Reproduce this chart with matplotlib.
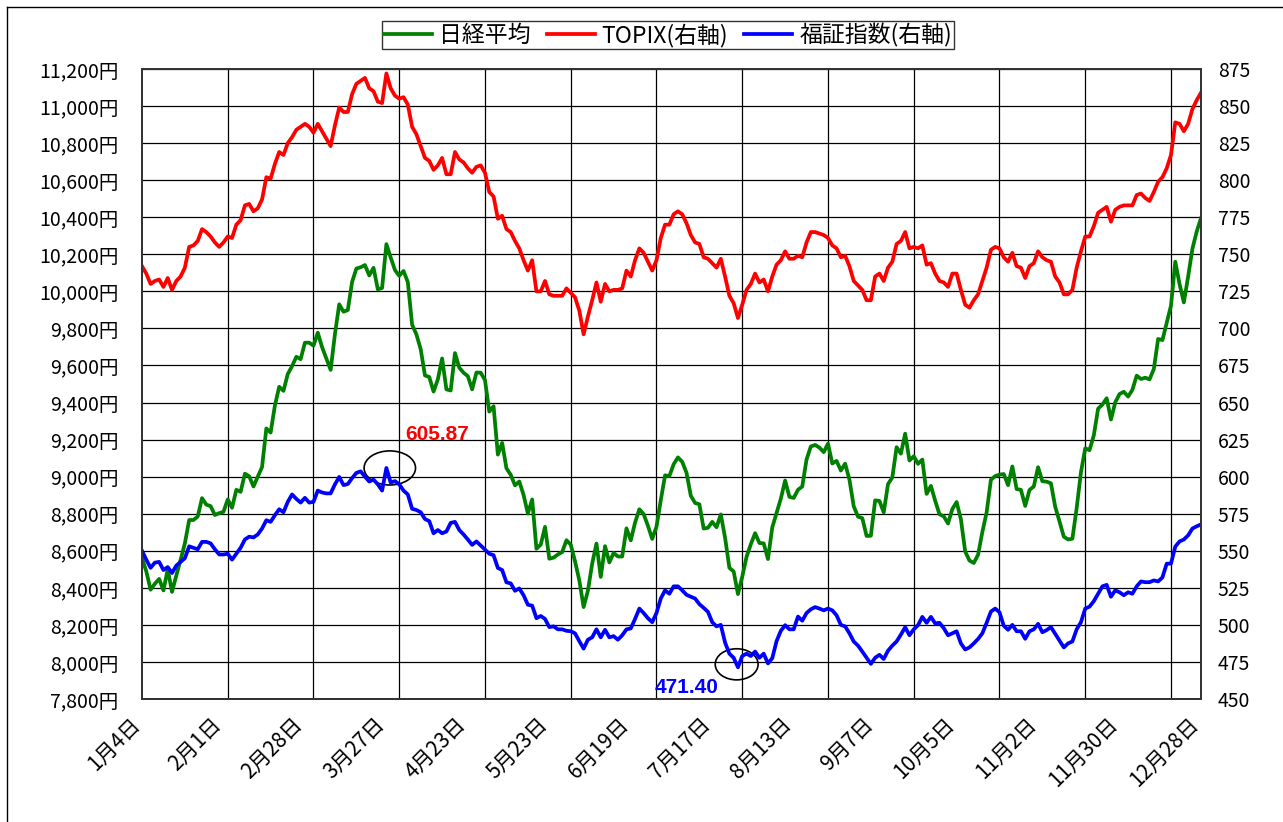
import numpy as np
import matplotlib
matplotlib.use('Agg')
import matplotlib.pyplot as plt
from matplotlib.patches import Ellipse
from matplotlib.lines import Line2D
from matplotlib.ticker import FuncFormatter
import matplotlib.transforms as mtransforms

plt.rcParams['font.family'] = ['Noto Sans CJK JP', 'DejaVu Sans']

# 2012年 営業日ごとの終値
nikkei = [
    # 1月
    8560, 8489, 8390, 8422, 8448, 8386, 8500, 8378, 8466, 8551, 8640, 8766, 8766, 8785, 8884, 8849, 8841, 8793, 8803,
    # 2月
    8810, 8877, 8832, 8929, 8918, 9016, 9002, 8947, 8999, 9052, 9260, 9238, 9384, 9485, 9463, 9554, 9596, 9647, 9634, 9723, 9723,
    # 3月
    9707, 9777, 9699, 9638, 9576, 9769, 9930, 9890, 9899, 10051, 10123, 10130, 10142, 10086, 10127, 10011, 10018, 10255, 10183, 10115, 10084,
    # 4月
    10110, 10050, 9820, 9768, 9688, 9546, 9538, 9459, 9525, 9638, 9471, 9465, 9667, 9588, 9561, 9542, 9471, 9562, 9561, 9521,
    # 5月
    9351, 9380, 9119, 9182, 9045, 9010, 8953, 8974, 8901, 8801, 8877, 8611, 8633, 8729, 8557, 8563, 8580, 8593, 8657, 8633, 8543,
    # 6月
    8440, 8296, 8384, 8531, 8639, 8459, 8625, 8537, 8588, 8569, 8569, 8721, 8656, 8752, 8824, 8798, 8735, 8664, 8730, 8873, 9007,
    # 7月
    9003, 9067, 9104, 9080, 9021, 8897, 8858, 8851, 8720, 8724, 8756, 8727, 8796, 8670, 8508, 8488, 8366, 8460, 8567, 8635, 8695,
    # 8月
    8642, 8640, 8555, 8726, 8803, 8881, 8979, 8891, 8885, 8929, 8947, 9093, 9163, 9171, 9157, 9132, 9178, 9071, 9085, 9033, 9070, 8984, 8840,
    # 9月
    8784, 8776, 8680, 8681, 8872, 8869, 8807, 8960, 8995, 9159, 9124, 9232, 9087, 9110, 9069, 9092, 8907, 8950, 8870,
    # 10月
    8797, 8786, 8747, 8825, 8863, 8770, 8596, 8547, 8534, 8578, 8701, 8807, 8983, 9003, 9011, 9014, 8954, 9055, 8933, 8929, 8842, 8928,
    # 11月
    8947, 9051, 8975, 8973, 8964, 8837, 8758, 8676, 8661, 8665, 8830, 9024, 9153, 9143, 9223, 9367, 9389, 9423, 9308, 9401, 9446,
    # 12月
    9458, 9432, 9469, 9545, 9527, 9534, 9525, 9581, 9743, 9737, 9829, 9923, 10160, 10039, 9940, 10080, 10230, 10323, 10395,
]

topix = [
    742, 737, 730, 732, 733, 728, 734, 726, 732, 735, 741, 755, 756, 759, 767, 765, 762, 758, 755,
    758, 762, 761, 770, 773, 783, 784, 779, 781, 787, 802, 801, 811, 819, 817, 825, 829, 834, 836, 838, 836,
    832, 838, 833, 828, 823, 837, 849, 846, 846, 858, 865, 867, 869, 862, 860, 853, 852, 872, 862, 857, 855,
    856, 851, 836, 831, 823, 815, 813, 807, 810, 815, 804, 804, 819, 814, 812, 808, 805, 809, 810, 805,
    792, 789, 774, 776, 767, 765, 759, 754, 746, 739, 746, 725, 725, 732, 723, 722, 722, 722, 727, 724, 721,
    712, 696, 708, 719, 731, 718, 730, 725, 726, 726, 727, 739, 735, 746, 754, 751, 745, 739, 746, 761, 770,
    770, 777, 779, 777, 771, 763, 758, 757, 748, 747, 744, 741, 747, 735, 722, 717, 707, 716, 726, 730, 737,
    731, 733, 725, 735, 743, 746, 752, 747, 747, 749, 748, 758, 765, 765, 764, 763, 761, 756, 754, 748, 749, 742, 732,
    729, 726, 719, 719, 735, 737, 732, 741, 745, 757, 759, 765, 754, 755, 754, 756, 743, 744, 737,
    732, 731, 728, 737, 737, 726, 716, 714, 719, 723, 732, 741, 753, 755, 754, 748, 745, 751, 742, 741, 734, 742,
    744, 752, 748, 746, 745, 735, 731, 723, 723, 726, 741, 752, 762, 762, 769, 778, 780, 782, 772, 780, 782,
    783, 783, 783, 790, 791, 788, 786, 792, 799, 802, 808, 817, 839, 838, 833, 838, 848, 854, 859,
]

fukusho = [
    550, 544, 538.5, 542, 542.5, 537, 539, 535, 540, 542.5, 545, 553, 552, 551, 556, 556, 555, 551, 547.5,
    547.5, 548, 544, 548, 552, 557.6, 559.5, 559, 561, 565, 570.6, 569.5, 574, 578, 576, 583, 588, 585, 582.5, 585.7, 582.5,
    583, 590.6, 589.3, 588.7, 588.7, 594.8, 599.8, 594.3, 595, 599, 602.5, 603.6, 600, 596.7, 598, 594.8, 590.6, 605.87, 596, 597, 594.8,
    590.6, 588, 578.3, 577.5, 576, 571.4, 570, 561.8, 564, 561.8, 563, 568.8, 569.5, 564, 561, 557.6, 554, 556.3, 553.5, 550.7,
    548, 547, 538.4, 537, 528.7, 528, 523, 524.6, 520, 513.6, 513, 504.5, 506, 504, 498.5, 499, 497, 497, 496, 495.7, 494.3,
    489, 484, 490, 491.6, 497, 491.6, 496.7, 491.6, 492.4, 490, 493, 497, 497.6, 504, 511, 508, 504.5, 501.8, 508, 517.8, 523.3,
    521, 526, 526, 523.3, 520.3, 519, 517.8, 514, 511.5, 508.8, 501.8, 499, 500, 488, 480.6, 477.8, 471.4, 479, 480.6, 479, 482,
    477.8, 480.6, 474, 477.5, 489, 496, 499.8, 497, 497, 505.6, 502.8, 508, 510.5, 512, 511, 509.8, 511, 509.8, 506.5, 500, 499, 494.3, 488.8,
    486, 482, 477.8, 473.7, 477.8, 479.8, 477, 482.6, 486, 488.8, 493.4, 498.4, 493, 497, 499.8, 505.4, 501.4, 505.4, 501,
    501.4, 497.8, 493, 494.3, 495.7, 487.5, 483.4, 484.8, 487.5, 490.5, 494.3, 501.4, 509, 511, 508.5, 499.4, 496.7, 500, 495.7, 495.7, 490.6, 495.7,
    497, 500.7, 495, 496.5, 498.5, 494, 489.4, 484.8, 487.5, 488.8, 497, 501.8, 511, 512.3, 516, 521, 526, 527, 519, 523.3, 522,
    520, 522, 521, 526, 529.3, 528.8, 528.8, 530, 529.3, 532, 541.3, 541.3, 552.8, 556.3, 557.6, 560.4, 565, 566.5, 567.8,
]

date_labels = ['1月4日', '2月1日', '2月28日', '3月27日', '4月23日', '5月23日', '6月19日',
               '7月17日', '8月13日', '9月7日', '10月5日', '11月2日', '11月30日', '12月28日']
series_names = ['日経平均', 'TOPIX(右軸)', '福証指数(右軸)']

W, H = 1283, 822
fig = plt.figure(figsize=(W / 100, H / 100), dpi=100)
ax = fig.add_axes([142 / W, 1 - 699 / H, (1201 - 142) / W, (699 - 69) / H])
ax2 = ax.twinx()

x = np.arange(len(nikkei))
l1, = ax.plot(x, nikkei, color='#008000', lw=2.7, solid_joinstyle='round')
l2, = ax2.plot(x, topix, color='#FF0000', lw=2.7, solid_joinstyle='round')
l3, = ax2.plot(x, fukusho, color='#0000FF', lw=2.7, solid_joinstyle='round')

ax.set_xlim(0, len(x) - 1)
ax.set_ylim(7800, 11200)
ax2.set_ylim(450, 875)
ax.set_yticks(np.arange(7800, 11201, 200))
ax.yaxis.set_major_formatter(FuncFormatter(lambda v, p: f'{v:,.0f}円'))
ax2.set_yticks(np.arange(450, 876, 25))

ax.set_xticks(range(0, len(x), 19))
ax.set_xticks(range(0, len(x), 20), minor=True)
ax.set_xticklabels(date_labels, rotation=45, ha='right', va='center', rotation_mode='anchor')

ax.grid(axis='y', which='major', color='black', lw=0.9)
ax.grid(axis='x', which='minor', color='black', lw=0.9)
ax.tick_params(axis='both', which='both', length=0)
ax.tick_params(axis='y', labelsize=14, pad=17)
ax.tick_params(axis='x', labelsize=15, pad=16)
ax2.tick_params(axis='y', labelsize=14, pad=12, length=0)

off = mtransforms.ScaledTranslation(-5 / 100, 0, fig.dpi_scale_trans)
for lbl in ax.get_xticklabels():
    lbl.set_transform(lbl.get_transform() + off)

for a in (ax, ax2):
    for s in a.spines.values():
        s.set_color('#333333')
        s.set_linewidth(1.3)

# 福証指数の高値・安値
imax = int(np.argmax(fukusho))
imin = int(np.argmin(fukusho))
vmax, vmin = fukusho[imax], fukusho[imin]
ax2.add_patch(Ellipse((imax + 0.8, vmax), 12, 23, fill=False, ec='black', lw=1.2))
ax2.add_patch(Ellipse((imin - 0.3, vmin + 2), 10, 21, fill=False, ec='black', lw=1.2))
ax2.text(imax + 4.3, vmax + 19, f'{vmax:.2f}', color='#FF0000', fontsize=15,
         fontweight='bold', family=['Liberation Sans', 'DejaVu Sans'], ha='left', va='baseline')
ax2.text(imin - 4.6, vmin - 17.5, f'{vmin:.2f}', color='#0000FF', fontsize=15,
         fontweight='bold', family=['Liberation Sans', 'DejaVu Sans'], ha='right', va='baseline')

fig.legend([l1, l2, l3], series_names, loc='center', bbox_to_anchor=(668 / W, 1 - 35 / H),
           ncol=3, frameon=True, fancybox=False, edgecolor='#333333', fontsize=16.5,
           handlelength=2.1, handletextpad=0.3, columnspacing=0.7, borderpad=0.1,
           framealpha=1)

# 外枠
fig.add_artist(Line2D([7 / W, 7 / W], [0, 1 - 7 / H], transform=fig.transFigure, color='black', lw=1))
fig.add_artist(Line2D([7 / W, 1], [1 - 7 / H, 1 - 7 / H], transform=fig.transFigure, color='black', lw=1))

fig.savefig('out.png', dpi=100, facecolor='white')
